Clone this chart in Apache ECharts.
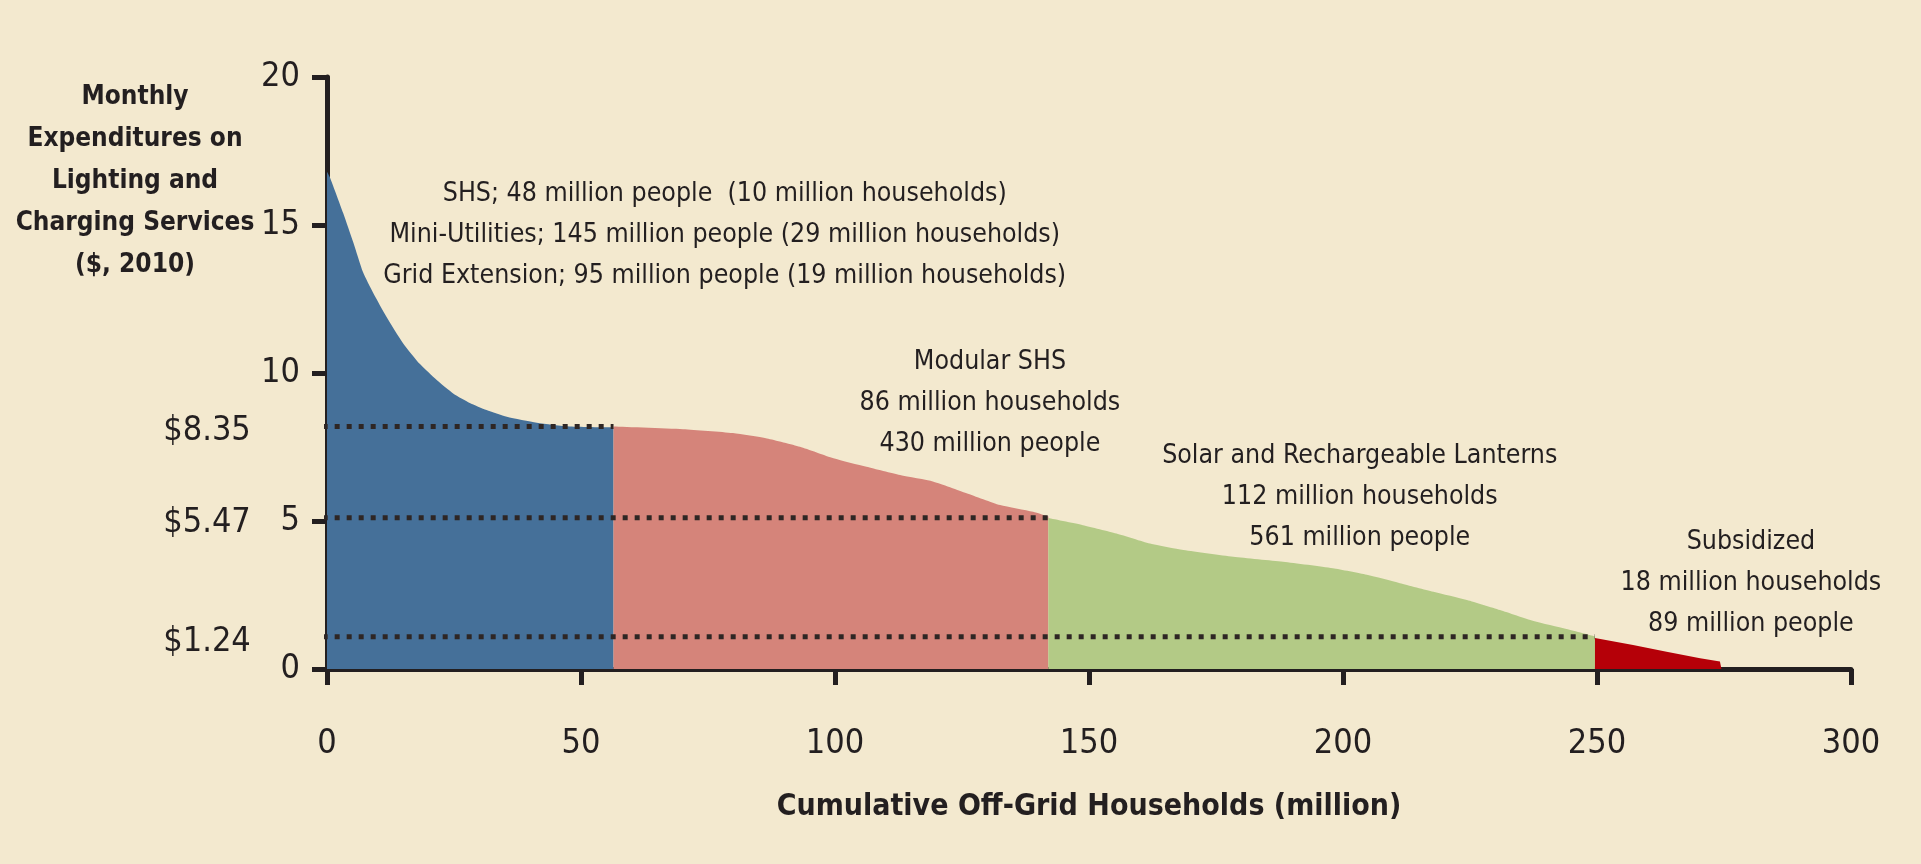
<!DOCTYPE html>
<html>
<head>
<meta charset="utf-8">
<script src="https://cdn.jsdelivr.net/npm/echarts@6/dist/echarts.min.js"></script>
<style>
  html, body { margin: 0; padding: 0; background: #f3e9cf; }
  #chartBox { width: 1921px; height: 864px; }
</style>
</head>
<body>
<div id="chartBox"></div>
<script>
// curve segments: [households (million), $ per month]
const shsCurve = [[0, 16.8], [0.6, 16.6], [3.2, 15.4], [5.2, 14.4], [7.1, 13.4], [9.1, 12.7], [11.7, 11.9], [15.0, 11.0], [18.3, 10.3], [21.6, 9.76], [24.9, 9.3], [28.1, 8.99], [31.4, 8.75], [35.4, 8.52], [41.3, 8.32], [47.8, 8.19], [56.4, 8.16]]
const modularCurve = [[56.4, 8.19], [70.1, 8.1], [79.9, 7.97], [86.6, 7.79], [93.1, 7.51], [99.7, 7.12], [106.2, 6.83], [112.8, 6.55], [119.4, 6.33], [125.9, 5.94], [132.5, 5.54], [139.0, 5.31], [142.0, 5.15]]
const lanternCurve = [[142.0, 5.1], [148.8, 4.86], [155.4, 4.58], [162.0, 4.24], [168.6, 4.02], [178.4, 3.79], [188.2, 3.62], [198.0, 3.4], [204.7, 3.18], [211.2, 2.9], [217.8, 2.61], [224.4, 2.33], [230.9, 1.99], [237.5, 1.62], [244.0, 1.35], [249.6, 1.1]]
const subsidizedCurve = [[249.6, 1.05], [257.1, 0.81], [263.7, 0.58], [270.3, 0.36], [274.2, 0.25], [274.5, 0]]

// dotted thresholds
const levelValues = [8.19, 5.11, 1.09]
const levelEnds = [56.4, 142.0, 249.6]
const levelStart = -10.3
const levelLabels = ['$8.35', '$5.47', '$1.24']
const levelLabelX = -15

// notes: [x, y of middle line, text]
const notes = [
  [78.3, 14.73, 'SHS; 48 million people  (10 million households)\nMini-Utilities; 145 million people (29 million households)\nGrid Extension; 95 million people (19 million households)'],
  [130.5, 9.05, 'Modular SHS\n86 million households\n430 million people'],
  [203.3, 5.88, 'Solar and Rechargeable Lanterns\n112 million households\n561 million people'],
  [280.3, 2.97, 'Subsidized\n18 million households\n89 million people']
]

const xTicks = [0, 300, 50]
const yTicks = [0, 20, 5]

const font = "'DejaVu Sans Condensed', 'Liberation Sans Narrow', sans-serif"
const ink = '#231f20'

function area (name, data, color, smooth) {
  return {
    name: name,
    type: 'line',
    data: data,
    symbol: 'none',
    smooth: smooth,
    lineStyle: { width: 0 },
    areaStyle: { color: color, opacity: 1 },
    silent: true,
    z: 2
  }
}

let series = [
  area('SHS', shsCurve, '#457099', 0.2),
  area('Modular SHS', modularCurve, '#d5847a', 0.2),
  area('Lanterns', lanternCurve, '#b3ca86', 0.2),
  area('Subsidized', subsidizedCurve, '#b50008', false)
]

levelValues.forEach((v, i) => {
  series.push({
    type: 'line',
    data: [[levelStart, v], [levelEnds[i], v]],
    symbol: 'none',
    clip: false,
    silent: true,
    lineStyle: { color: '#2e2624', width: 5, type: [5, 7] },
    z: 5
  })
})

// text placed at data coordinates
function textSeries (data, label) {
  return {
    type: 'scatter',
    clip: false,
    silent: true,
    symbolSize: 0,
    itemStyle: { color: ink, opacity: 1 },
    data: data,
    label: Object.assign({
      show: true,
      position: [0, 0],
      verticalAlign: 'middle',
      color: ink,
      fontFamily: font
    }, label),
    z: 6
  }
}

series.push(textSeries(levelValues.map((v, i) => ({
  value: [levelLabelX, v],
  label: { formatter: levelLabels[i] }
})), { align: 'right', fontSize: 34, offset: [0, 5] }))

series.push(textSeries(notes.map(n => ({
  value: [n[0], n[1]],
  label: { formatter: n[2] }
})), { align: 'center', fontSize: 26.5, lineHeight: 41, offset: [0, 2] }))

let myChart = echarts.init(document.getElementById('chartBox'))
myChart.setOption({
  backgroundColor: '#f3e9cf',
  animation: false,
  grid: { left: 327, right: 70, top: 77, bottom: 195 },
  graphic: [{
    type: 'text',
    x: 135,
    y: 76,
    style: {
      text: 'Monthly\nExpenditures on\nLighting and\nCharging Services\n($, 2010)',
      textAlign: 'center',
      textVerticalAlign: 'top',
      fill: ink,
      font: 'bold 26px ' + font,
      lineHeight: 42
    }
  }],
  xAxis: {
    type: 'value',
    min: xTicks[0],
    max: xTicks[1],
    interval: xTicks[2],
    name: 'Cumulative Off-Grid Households (million)',
    nameLocation: 'middle',
    nameGap: 123,
    nameTextStyle: { color: ink, fontFamily: font, fontSize: 30, fontWeight: 'bold' },
    splitLine: { show: false },
    axisLine: { lineStyle: { color: ink, width: 5 } },
    axisTick: { length: 16, lineStyle: { color: ink, width: 5 } },
    axisLabel: { color: ink, fontFamily: font, fontSize: 34, margin: 58 }
  },
  yAxis: {
    type: 'value',
    min: yTicks[0],
    max: yTicks[1],
    interval: yTicks[2],
    splitLine: { show: false },
    axisLine: { show: true, lineStyle: { color: ink, width: 5 } },
    axisTick: { show: true, length: 15, lineStyle: { color: ink, width: 5 } },
    axisLabel: { color: ink, fontFamily: font, fontSize: 34, margin: 27 }
  },
  series: series
})
</script>
</body>
</html>
